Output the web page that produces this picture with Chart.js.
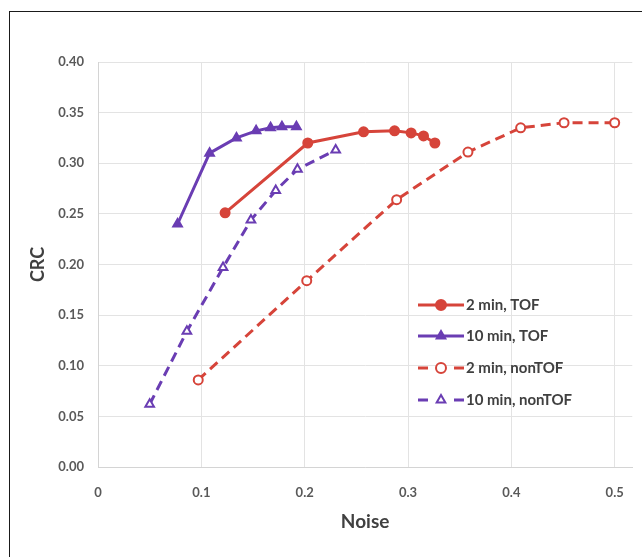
<!DOCTYPE html>
<html>
<head>
<meta charset="utf-8">
<script src="https://cdn.jsdelivr.net/npm/chart.js@4.4.1/dist/chart.umd.min.js"></script>
<style>
    html, body { margin: 0; padding: 0; background: #fff; }
    #wrap  { position: relative; width: 642px; height: 557px; overflow: hidden; }
    #frame { position: absolute; left: 9px; top: 11px; width: 700px; height: 600px;
             border: 1.5px solid #1a1a1a; box-sizing: border-box; }
    #c     { position: absolute; left: 0; top: 0; }
</style>
</head>
<body>
<div id="wrap">
    <div id="frame"></div>
    <canvas id="c" width="642" height="557"></canvas>
</div>
<script>
'use strict';

// ── Data ──────────────────────────────────────────────────────────────────────
const seriesNames = ['2 min, TOF', '10 min, TOF', '2 min, nonTOF', '10 min, nonTOF'];

const noise2Tof  = [0.123, 0.203, 0.257, 0.287, 0.303, 0.315, 0.326];
const crc2Tof    = [0.251, 0.320, 0.331, 0.332, 0.330, 0.327, 0.320];

const noise10Tof = [0.077, 0.108, 0.134, 0.153, 0.167, 0.178, 0.192];
const crc10Tof   = [0.240, 0.310, 0.325, 0.332, 0.335, 0.336, 0.336];

const noise2Non  = [0.097, 0.202, 0.289, 0.358, 0.409, 0.451, 0.500];
const crc2Non    = [0.086, 0.184, 0.264, 0.311, 0.335, 0.340, 0.340];

const noise10Non = [0.050, 0.086, 0.121, 0.148, 0.172, 0.193, 0.230];
const crc10Non   = [0.062, 0.134, 0.197, 0.244, 0.273, 0.294, 0.313];

const xTicks = [0, 0.1, 0.2, 0.3, 0.4, 0.5];
const yTicks = [0, 0.05, 0.10, 0.15, 0.20, 0.25, 0.30, 0.35, 0.40];

// ── Style ─────────────────────────────────────────────────────────────────────
const RED    = '#d6443a';
const PURPLE = '#6a3db3';
const FONT   = 'Lato, "Open Sans", sans-serif';

const toPoints = (xs, ys) => xs.map((x, i) => ({ x, y: ys[i] }));

function series(label, xs, ys, color, shape, open) {
    return {
        label,
        data: toPoints(xs, ys),
        showLine: true,
        borderColor: color,
        borderWidth: 3,
        borderDash: open ? [10, 6] : [],
        pointStyle: shape,
        pointRadius: shape === 'triangle' ? 5 : 4.5,
        pointBorderWidth: 2,
        pointBorderColor: color,
        pointBackgroundColor: open ? '#fff' : color,
        tension: 0
    };
}

// ── Legend drawn in the chart (line + marker + text, Excel style) ────────────
const legendPlugin = {
    id: 'sideLegend',
    afterDraw(chart) {
        const ctx  = chart.ctx;
        const x0   = 418, x1 = 464, rows = [305, 336, 368, 400];
        chart.data.datasets.forEach((ds, i) => {
            const y  = rows[i];
            const mx = (x0 + x1) / 2;
            ctx.save();
            ctx.strokeStyle = ds.borderColor;
            ctx.lineWidth   = 3;
            ctx.beginPath();
            if (ds.borderDash.length) {
                ctx.moveTo(x0, y); ctx.lineTo(x0 + 10, y);
                ctx.moveTo(x1 - 10, y); ctx.lineTo(x1, y);
            } else {
                ctx.moveTo(x0, y); ctx.lineTo(x1, y);
            }
            ctx.stroke();
            ctx.fillStyle = ds.pointBackgroundColor;
            ctx.lineWidth = ds.pointBorderWidth;
            Chart.helpers.drawPoint(ctx, { pointStyle: ds.pointStyle, radius: 5, borderWidth: 2 }, mx, y);
            ctx.fillStyle    = '#404040';
            ctx.font         = 'bold 15px ' + FONT;
            ctx.textBaseline = 'middle';
            ctx.fillText(ds.label, x1 + 2, y);
            ctx.restore();
        });
    }
};

// ── Chart ─────────────────────────────────────────────────────────────────────
new Chart(document.getElementById('c'), {
    type: 'scatter',
    data: {
        datasets: [
            series(seriesNames[0], noise2Tof,  crc2Tof,  RED,    'circle',   false),
            series(seriesNames[1], noise10Tof, crc10Tof, PURPLE, 'triangle', false),
            series(seriesNames[2], noise2Non,  crc2Non,  RED,    'circle',   true),
            series(seriesNames[3], noise10Non, crc10Non, PURPLE, 'triangle', true)
        ]
    },
    options: {
        responsive: false,
        animation: false,
        layout: { padding: { left: 0, top: 62, right: 7, bottom: 0 } },
        plugins: {
            legend: { display: false },
            tooltip: { enabled: false }
        },
        scales: {
            x: {
                type: 'linear',
                min: 0,
                max: 0.517,
                afterBuildTicks: s => { s.ticks = xTicks.map(v => ({ value: v })); },
                afterFit: s => { s.height = 90; },
                grid: { color: '#e3e3e3', lineWidth: 1, drawTicks: false },
                border: { color: '#d4d4d4' },
                ticks: {
                    padding: 18,
                    color: '#595959',
                    font: { family: FONT, size: 13, weight: 'bold' },
                    callback: v => String(v)
                },
                title: {
                    display: true,
                    text: 'Noise',
                    color: '#404040',
                    font: { family: FONT, size: 19, weight: 'bold' },
                    padding: { top: 0, bottom: 24 }
                }
            },
            y: {
                min: 0,
                max: 0.4,
                afterBuildTicks: s => { s.ticks = yTicks.map(v => ({ value: v })); },
                afterFit: s => { s.width = 98; },
                grid: { color: '#e3e3e3', lineWidth: 1, drawTicks: false },
                border: { color: '#d4d4d4' },
                ticks: {
                    padding: 14,
                    color: '#595959',
                    font: { family: FONT, size: 13, weight: 'bold' },
                    callback: v => Number(v).toFixed(2)
                },
                title: {
                    display: true,
                    text: 'CRC',
                    color: '#404040',
                    font: { family: FONT, size: 18, weight: 'bold' },
                    padding: { top: 27, bottom: 0 }
                }
            }
        }
    },
    plugins: [legendPlugin]
});
</script>
</body>
</html>
